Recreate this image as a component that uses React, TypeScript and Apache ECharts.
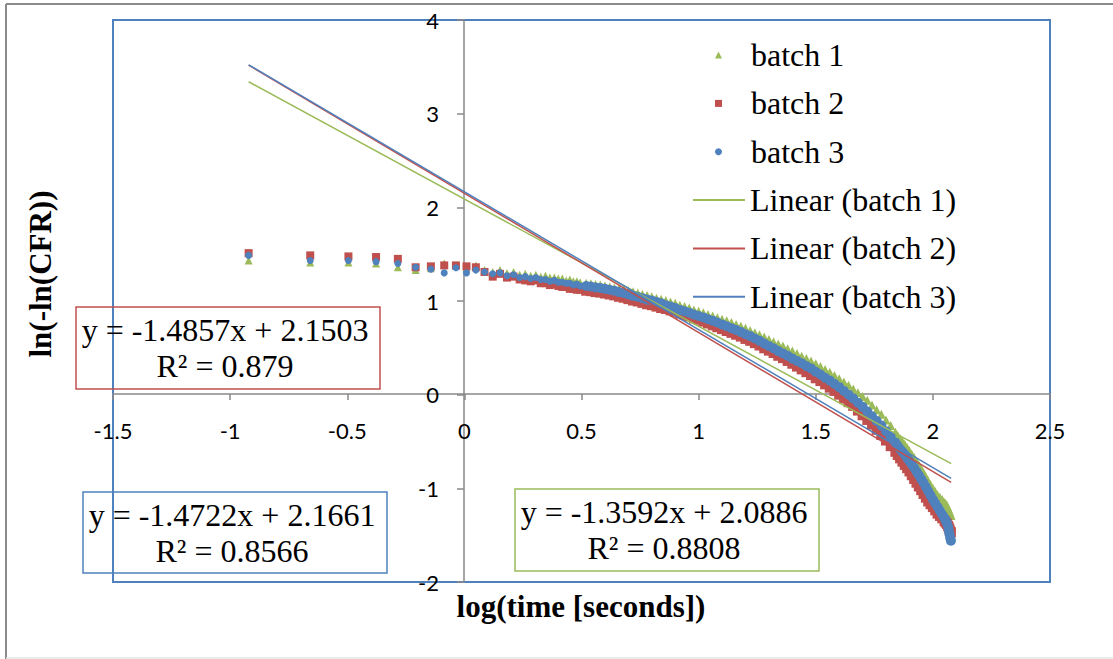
import React, { useEffect, useRef } from "react";
import * as echarts from "echarts";

// log10 of sampling time (shared by all three batches)
const logTime = [
  -0.921, -0.658, -0.495, -0.377, -0.284, -0.208, -0.143, -0.086, -0.036, 0.009,
  0.049, 0.086, 0.121, 0.152, 0.182, 0.21, 0.236, 0.26, 0.283, 0.305,
  0.326, 0.346, 0.365, 0.384, 0.401, 0.418, 0.435, 0.45, 0.465, 0.48, 0.494,
  0.52, 0.54, 0.56, 0.58, 0.6, 0.62, 0.64, 0.66, 0.68, 0.7,
  0.72, 0.74, 0.76, 0.78, 0.8, 0.82, 0.84, 0.86, 0.88, 0.9,
  0.92, 0.94, 0.96, 0.98, 1.0, 1.02, 1.04, 1.06, 1.08, 1.1,
  1.12, 1.14, 1.16, 1.18, 1.2, 1.22, 1.24, 1.26, 1.28, 1.3,
  1.32, 1.34, 1.36, 1.38, 1.4, 1.42, 1.44, 1.46, 1.48, 1.5,
  1.52, 1.54, 1.56, 1.58, 1.6, 1.62, 1.64, 1.66, 1.68, 1.7,
  1.72, 1.74, 1.76, 1.78, 1.8, 1.82, 1.84,
  1.85, 1.86, 1.87, 1.88, 1.89, 1.9, 1.91, 1.92, 1.93, 1.94,
  1.95, 1.96, 1.97, 1.98, 1.99, 2.0, 2.01, 2.02, 2.03, 2.04, 2.05,
  2.055, 2.06, 2.065, 2.068, 2.071, 2.074, 2.077,
];

const batch1 = [
  1.433, 1.41, 1.41, 1.4, 1.36, 1.33, 1.35, 1.4, 1.38, 1.35,
  1.38, 1.33, 1.31, 1.33, 1.3, 1.31, 1.28, 1.29, 1.27, 1.28,
  1.26, 1.27, 1.25, 1.25, 1.24, 1.24, 1.22, 1.23, 1.21, 1.21, 1.2,
  1.19, 1.185, 1.175, 1.17, 1.16, 1.15, 1.14, 1.13, 1.12, 1.11,
  1.1, 1.085, 1.07, 1.06, 1.045, 1.03, 1.02, 1.005, 0.99, 0.975,
  0.955, 0.94, 0.925, 0.905, 0.89, 0.875, 0.855, 0.84, 0.82, 0.805,
  0.79, 0.77, 0.75, 0.73, 0.71, 0.685, 0.66, 0.64, 0.615, 0.59,
  0.565, 0.54, 0.52, 0.49, 0.465, 0.44, 0.41, 0.385, 0.36, 0.33,
  0.3, 0.27, 0.24, 0.205, 0.17, 0.135, 0.1, 0.06, 0.02, -0.02,
  -0.06, -0.11, -0.16, -0.21, -0.27, -0.33, -0.4,
  -0.435, -0.47, -0.5, -0.53, -0.565, -0.6, -0.635, -0.67, -0.71, -0.75,
  -0.79, -0.83, -0.875, -0.92, -0.96, -1.0, -1.035, -1.07, -1.095, -1.12, -1.15,
  -1.165, -1.18, -1.21, -1.23, -1.25, -1.27, -1.29,
];

const batch2 = [
  1.511, 1.487, 1.476, 1.47, 1.45, 1.36, 1.37, 1.38, 1.38, 1.37,
  1.36, 1.31, 1.26, 1.29, 1.25, 1.26, 1.23, 1.22, 1.21, 1.22,
  1.19, 1.19, 1.17, 1.18, 1.16, 1.15, 1.15, 1.13, 1.13, 1.12, 1.12,
  1.11, 1.105, 1.095, 1.09, 1.08, 1.07, 1.06, 1.045, 1.035, 1.02,
  1.005, 0.995, 0.98, 0.965, 0.955, 0.94, 0.925, 0.915, 0.9, 0.885,
  0.865, 0.85, 0.835, 0.815, 0.8, 0.78, 0.76, 0.74, 0.72, 0.7,
  0.68, 0.66, 0.64, 0.62, 0.595, 0.575, 0.55, 0.525, 0.495, 0.47,
  0.445, 0.415, 0.39, 0.36, 0.33, 0.3, 0.27, 0.24, 0.21, 0.175,
  0.145, 0.11, 0.075, 0.04, 0.0, -0.04, -0.08, -0.12, -0.17, -0.22,
  -0.27, -0.32, -0.375, -0.43, -0.49, -0.55, -0.61,
  -0.645, -0.68, -0.715, -0.75, -0.785, -0.82, -0.86, -0.9, -0.94, -0.98,
  -1.02, -1.06, -1.1, -1.14, -1.17, -1.2, -1.235, -1.27, -1.295, -1.32, -1.35,
  -1.365, -1.38, -1.4, -1.42, -1.44, -1.46, -1.47,
];

const batch3 = [
  1.487, 1.433, 1.433, 1.42, 1.4, 1.36, 1.34, 1.3, 1.355, 1.3,
  1.33, 1.31, 1.29, 1.3, 1.27, 1.28, 1.25, 1.26, 1.24, 1.25,
  1.23, 1.23, 1.21, 1.22, 1.2, 1.2, 1.19, 1.19, 1.17, 1.18, 1.16,
  1.16, 1.155, 1.145, 1.14, 1.13, 1.12, 1.11, 1.095, 1.085, 1.07,
  1.055, 1.045, 1.03, 1.015, 1.005, 0.99, 0.975, 0.955, 0.94, 0.925,
  0.905, 0.89, 0.875, 0.855, 0.84, 0.825, 0.805, 0.79, 0.77, 0.75,
  0.73, 0.71, 0.69, 0.67, 0.645, 0.625, 0.6, 0.575, 0.545, 0.52,
  0.495, 0.465, 0.44, 0.415, 0.385, 0.36, 0.335, 0.305, 0.28, 0.245,
  0.215, 0.18, 0.15, 0.115, 0.08, 0.04, 0.0, -0.04, -0.085, -0.13,
  -0.18, -0.23, -0.28, -0.33, -0.39, -0.45, -0.51,
  -0.545, -0.58, -0.61, -0.64, -0.675, -0.71, -0.745, -0.78, -0.82, -0.86,
  -0.9, -0.94, -0.985, -1.03, -1.075, -1.12, -1.16, -1.2, -1.24, -1.28, -1.32,
  -1.345, -1.37, -1.41, -1.45, -1.49, -1.53, -1.56,
];

const batchNames = ["batch 1", "batch 2", "batch 3"];
const trendNames = ["Linear (batch 1)", "Linear (batch 2)", "Linear (batch 3)"];
const slopes = [-1.3592, -1.4857, -1.4722];
const intercepts = [2.0886, 2.1503, 2.1661];
const rSquared = ["0.8808", "0.879", "0.8566"];
const trendXRange = [-0.921, 2.078];

const xTitle = "log(time [seconds])";
const yTitle = "ln(-ln(CFR))";

const COLORS = ["#9BBB59", "#C0504D", "#4F81BD"];
const SYMBOLS = ["triangle", "rect", "circle"];
const SYMBOL_SIZES = [8, 8, 7];
const DENSE_SIZES = [9, 10, 10];
const SERIF = '"Liberation Serif", "Times New Roman", serif';
const SANS = 'Lato, "Open Sans", sans-serif';

// equation label boxes (per batch): x, y, w, h
const EQ_BOXES = [
  { x: 515, y: 489, w: 304, h: 82 },
  { x: 76, y: 307, w: 304, h: 82 },
  { x: 83, y: 492, w: 304, h: 81 },
];

export default function App() {
  const ref = useRef<HTMLDivElement>(null);

  useEffect(() => {
    if (!ref.current) return;
    const chart = echarts.init(ref.current, undefined, { renderer: "svg" });

    const batches = [batch1, batch2, batch3];

    const scatterSeries = batches.map((ys, i) => ({
      name: batchNames[i],
      type: "scatter",
      symbol: SYMBOLS[i],
      symbolSize: (v: number[]) => (v[0] > 0.5 ? DENSE_SIZES[i] : SYMBOL_SIZES[i]),
      itemStyle: { color: COLORS[i], opacity: 1 },
      data: logTime.map((x, k) => [x, ys[k]]),
      z: 2,
    }));

    const trendSeries = slopes.map((m, i) => ({
      name: trendNames[i],
      type: "line",
      symbol: "none",
      showSymbol: false,
      lineStyle: { color: COLORS[i], width: 1.5 },
      itemStyle: { color: COLORS[i] },
      data: trendXRange.map((x) => [x, m * x + intercepts[i]]),
      z: 3,
    }));

    const fmt = (v: number) => (v < 0 ? `-${Math.abs(v)}` : `${v}`);

    const eqGraphics: any[] = [];
    EQ_BOXES.forEach((b, i) => {
      eqGraphics.push({
        type: "rect",
        shape: { x: b.x, y: b.y, width: b.w, height: b.h },
        style: { fill: "none", stroke: COLORS[i], lineWidth: 1.5 },
        z: 10,
      });
      eqGraphics.push({
        type: "text",
        x: b.x + b.w / 2 - 3,
        y: b.y + b.h / 2,
        style: {
          text: `y = ${fmt(slopes[i])}x + ${intercepts[i].toFixed(4)}\nR² = ${rSquared[i]}`,
          fontFamily: SERIF,
          fontSize: 32,
          lineHeight: 36,
          fill: "#000",
          align: "center",
          verticalAlign: "middle",
        },
        z: 10,
      });
    });

    const option: any = {
      animation: false,
      backgroundColor: "#fff",
      grid: {
        left: 113,
        top: 20,
        right: 63,
        bottom: 77,
        show: true,
        borderColor: "#4F81BD",
        borderWidth: 2,
        backgroundColor: "transparent",
        containLabel: false,
      },
      xAxis: {
        type: "value",
        min: -1.5,
        max: 2.5,
        interval: 0.5,
        offset: -188,
        axisLine: { onZero: false, lineStyle: { color: "#898989", width: 1.5 } },
        axisTick: { show: true, length: 6, lineStyle: { color: "#898989", width: 1.5 } },
        axisLabel: {
          margin: 25,
          color: "#000",
          fontFamily: SANS,
          fontSize: 22,
          showMinLabel: true,
          showMaxLabel: true,
        },
        splitLine: { show: false },
        z: 1,
      },
      yAxis: {
        type: "value",
        min: -2,
        max: 4,
        interval: 1,
        offset: -351,
        axisLine: { onZero: false, lineStyle: { color: "#898989", width: 1.5 } },
        axisTick: { show: true, length: 7, lineStyle: { color: "#898989", width: 1.5 } },
        axisLabel: {
          margin: 25,
          color: "#000",
          fontFamily: SANS,
          fontSize: 22,
          showMinLabel: true,
          showMaxLabel: true,
        },
        splitLine: { show: false },
        z: 1,
      },
      legend: [
        {
          orient: "vertical",
          left: 715,
          top: 30.8,
          padding: 0,
          itemGap: 0,
          itemWidth: 7,
          itemHeight: 7,
          selectedMode: false,
          data: batchNames.map((n, i) => ({ name: n, icon: SYMBOLS[i] })),
          textStyle: {
            fontFamily: SERIF,
            fontSize: 32,
            color: "#000",
            lineHeight: 48.4,
            padding: [0, 0, 0, 24],
          },
        },
        {
          orient: "vertical",
          left: 693,
          top: 175.8,
          padding: 0,
          itemGap: 0,
          itemWidth: 52,
          itemHeight: 2,
          icon: "rect",
          selectedMode: false,
          data: trendNames.map((n) => ({ name: n, icon: "rect" })),
          textStyle: {
            fontFamily: SERIF,
            fontSize: 32,
            color: "#000",
            lineHeight: 48.4,
          },
        },
      ],
      graphic: [
        {
          type: "line",
          shape: { x1: 6, y1: 4, x2: 6, y2: 659 },
          style: { stroke: "#8a8a8a", lineWidth: 2 },
          silent: true,
        },
        {
          type: "line",
          shape: { x1: 6, y1: 4, x2: 1113, y2: 4 },
          style: { stroke: "#8a8a8a", lineWidth: 2 },
          silent: true,
        },
        {
          type: "line",
          shape: { x1: 6, y1: 658, x2: 1113, y2: 658 },
          style: { stroke: "#e4e4e4", lineWidth: 1.5 },
          silent: true,
        },
        {
          type: "text",
          x: 581,
          y: 606,
          style: {
            text: xTitle,
            fontFamily: SERIF,
            fontWeight: "bold",
            fontSize: 31,
            fill: "#000",
            align: "center",
            verticalAlign: "middle",
          },
        },
        {
          type: "text",
          x: 40,
          y: 274,
          rotation: Math.PI / 2,
          style: {
            text: yTitle,
            fontFamily: SERIF,
            fontWeight: "bold",
            fontSize: 31,
            fill: "#000",
            align: "center",
            verticalAlign: "middle",
          },
        },
        ...eqGraphics,
      ],
      series: [...scatterSeries, ...trendSeries],
    };

    chart.setOption(option);
    return () => chart.dispose();
  }, []);

  return (
    <div
      ref={ref}
      style={{ position: "fixed", left: 0, top: 0, width: 1113, height: 659 }}
    />
  );
}
